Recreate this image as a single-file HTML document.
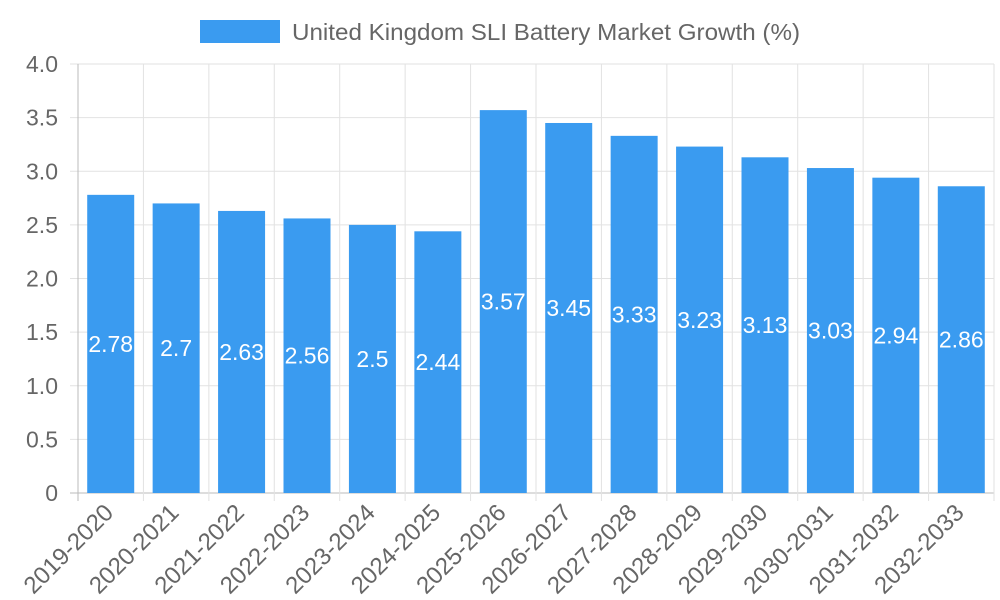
<!DOCTYPE html>
<html><head><meta charset="utf-8"><style>
html,body{margin:0;padding:0;background:#fff;}
svg{display:block;font-family:"Liberation Sans",Arial,sans-serif;}
</style></head><body>
<svg id="chart" width="1000" height="600">
  <g>
    <rect x="200" y="20" width="80" height="23" fill="#3a9bf0"></rect>
    <text x="292" y="40" font-size="23" textLength="508" lengthAdjust="spacingAndGlyphs" fill="#666">United Kingdom SLI Battery Market Growth (%)</text>
  </g>
  <g id="grid"></g>
  <g id="bars"></g>
  <g id="axes"></g>
</svg>
<script>
const categories = ["2019-2020","2020-2021","2021-2022","2022-2023","2023-2024","2024-2025","2025-2026","2026-2027","2027-2028","2028-2029","2029-2030","2030-2031","2031-2032","2032-2033"];
const values = [2.78,2.7,2.63,2.56,2.5,2.44,3.57,3.45,3.33,3.23,3.13,3.03,2.94,2.86];
const yTicks = [0,0.5,1.0,1.5,2.0,2.5,3.0,3.5,4.0];
const yTickLabels = ["0","0.5","1.0","1.5","2.0","2.5","3.0","3.5","4.0"];

const NS="http://www.w3.org/2000/svg";
const L=78,R=994,T=64,B=493,yMax=4;
const bw=(R-L)/categories.length;
const y=v=>B-(v/yMax)*(B-T);
const x=i=>L+bw*i;
function mk(tag,attrs,parent){const e=document.createElementNS(NS,tag);for(const k in attrs)e.setAttribute(k,attrs[k]);parent.appendChild(e);return e;}
const grid=document.getElementById('grid'),bars=document.getElementById('bars'),axes=document.getElementById('axes');

yTicks.forEach((t,i)=>{
  const gl=mk('line',{x1:70,x2:R,y1:y(t),y2:y(t),stroke:i===0?'#bbb':'#e2e2e2','stroke-width':1},grid);
  
  
  const tl=mk('text',{x:58,y:y(t)+8,'text-anchor':'end','font-size':23,fill:'#666'},axes);
  tl.textContent=yTickLabels[i];
  
  
});
for(let i=0;i<=categories.length;i++){
  const vl=mk('line',{x1:x(i),x2:x(i),y1:T,y2:B+8,stroke:i===0?'#bbb':'#e2e2e2','stroke-width':1},grid);
  
  
}
categories.forEach((c,i)=>{
  const cx=x(i)+bw/2, w=47;
  const r=mk('rect',{x:cx-w/2,y:y(values[i]),width:w,height:B-y(values[i]),fill:'#3a9bf0'},bars);
  
  
  const lt=mk('text',{x:cx,y:(y(values[i])+B)/2+8,'text-anchor':'middle','font-size':23,fill:'#fff'},bars);
  lt.textContent=String(values[i]);
  
  
  const xl=mk('text',{x:0,y:0,'text-anchor':'end','font-size':24,fill:'#666',transform:`translate(${cx+4},${B+21}) rotate(-45)`},axes);
  xl.textContent=c;
  
  
});
</script>
</body></html>
